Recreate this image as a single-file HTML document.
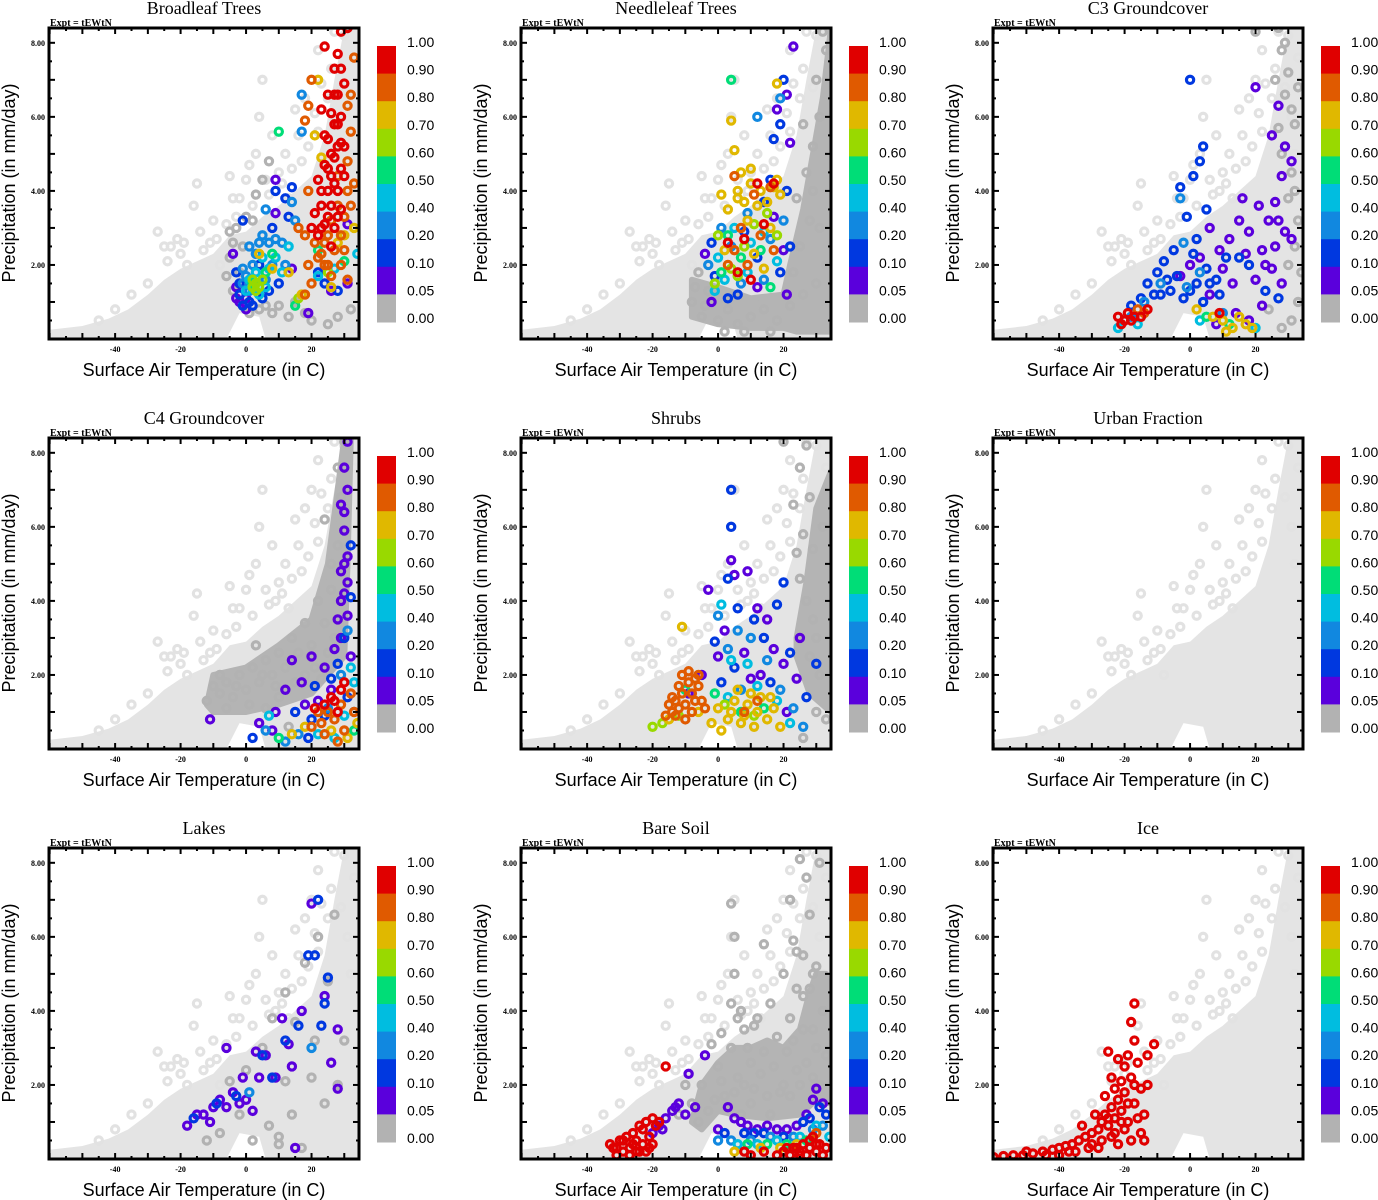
<!DOCTYPE html>
<html><head><meta charset="utf-8"><title>Vegetation fraction scatter panels</title>
<style>
html,body{margin:0;padding:0;background:#fff;}
svg{display:block;}
.ttl{font-family:"Liberation Serif",serif;font-size:18px;fill:#000;text-anchor:middle;}
.expt{font-family:"Liberation Serif",serif;font-size:10px;font-weight:bold;fill:#000;}
.tick{font-family:"Liberation Serif",serif;font-size:8px;font-weight:bold;fill:#000;}
.axl{font-family:"Liberation Sans",sans-serif;font-size:18px;fill:#000;text-anchor:middle;}
.cbl{font-family:"Liberation Sans",sans-serif;font-size:14px;fill:#000;}
</style></head>
<body>
<svg id="fig" width="1378" height="1200" viewBox="0 0 1378 1200" xmlns="http://www.w3.org/2000/svg"></svg>
<script>
// ---------- data ----------
const panelTitles = ["Broadleaf Trees","Needleleaf Trees","C3 Groundcover","C4 Groundcover","Shrubs","Urban Fraction","Lakes","Bare Soil","Ice"];
const xTicks = [-40,-20,0,20];
const yTicks = [2,4,6,8];
const yTickLabels = ["2.00","4.00","6.00","8.00"];
const cbLabels = ["1.00","0.90","0.80","0.70","0.60","0.50","0.40","0.20","0.10","0.05","0.00"];
const cbThresholds = [0.9,0.8,0.7,0.6,0.5,0.4,0.2,0.1,0.05,0];
const cbColors = ["#e00000","#e05a00","#e0b800","#99d900","#00dd77","#00bde0","#1188e0","#0038e0","#5a00dc","#b2b2b2"];
// shared light-grey background cloud: envelope + outliers
const cloudEdgeT = [-60,-50,-42,-36,-30,-25,-20,-15,-10,-5,0,5,10,15,20,24,27,30,34.5,34.5,6,4,-2,-6,-60];
const cloudEdgeP = [0.25,0.35,0.55,0.8,1.2,1.6,1.9,2.1,2.3,2.8,2.9,3.3,3.6,4.0,4.4,5.5,7.0,8.4,8.4,0,0,0.6,0.7,0,0];
const cloudPts = [[-27,2.9],[-25,2.5],[-23,2.5],[-21,2.7],[-20,2.3],[-18,2.0],[-15,4.2],[-16,3.6],[-14,2.9],[-11,2.6],[-10,3.2],[-8,2.0],[-5,4.4],[-4,3.8],[-2,3.8],[0,4.3],[1,4.7],[3,5.0],[4,6.0],[5,7.0],[8,5.5],[10,4.5],[12,5.0],[13,3.8],[15,6.2],[18,6.5],[20,7.0],[22,7.8],[25,6.5],[27,8.3],[30,8.2],[33,7.6],[31,6.0],[22,5.6],[17,4.8],[-30,1.5],[-35,1.2],[-40,0.8],[-45,0.5],[-13,2.4],[-6,3.1],[7,3.9],[19,5.2],[26,7.3],[29,6.8],[32,5.0],[-24,2.1],[-19,2.6],[-9,2.7],[-3,3.3],[2,3.6],[6,4.3],[9,4.0],[11,4.2],[14,4.6],[16,5.5],[21,6.1],[23,6.9]];
// dense mid-grey (fraction 0) regions per panel, as envelope coordinates
const coreT = {
  needleleaf:[22,26,29,32,34.5,34.5,24,20,10,0,-8,-8,0,10,20],
  c4:[-12,-10,0,10,20,25,28,30,32,31,30,20,10,0,-10],
  bareSoil:[-8,-5,0,5,10,15,20,25,28,30,33,34.5,34.5,30,25,15,5,0,-5],
  shrubs:[24,27,30,34.5,34.5,28,24]
};
const coreP = {
  needleleaf:[2.0,3.5,5.0,6.5,8.4,0.2,0.2,0.3,0.3,0.4,0.6,1.6,1.4,1.1,1.2],
  c4:[1.2,2.0,2.2,2.8,3.5,5.0,7.0,8.4,8.4,5.0,2.5,1.5,1.2,1.0,1.0],
  bareSoil:[1.0,2.0,2.6,3.0,3.0,3.2,3.0,3.5,4.5,5.0,5.0,3.0,1.5,1.6,1.2,1.1,1.2,1.3,0.8],
  shrubs:[3.0,4.5,6.5,7.5,1.0,1.5,2.5]
};
// per-panel points [temperature, precipitation, fraction]
const broadleafPts = [[-5,2.9,0],[-3,3.0,0],[-4,2.6,0],[-2,1.8,0],[-6,1.7,0],[0,3.3,0],[2,3.2,0],[3,3.9,0],[5,4.3,0],[7,4.8,0],[-1,2.5,0],[4,0.8,0],[6,0.9,0],[10,0.9,0],[15,1.0,0],[20,0.5,0],[25,0.4,0],[28,0.6,0],[32,0.8,0],[13,0.6,0],[18,0.7,0],[-5,2.2,0],[-4,1.3,0],[1,0.7,0],[8,0.7,0],
[-4,2.3,.05],[-3,1.4,.05],[-2,1.0,.05],[0,0.8,.05],[9,3.4,.05],[9,4.3,.05],[14,1.9,.05],[19,0.7,.05],[26,1.3,.05],[31,1.5,.05],[31,3.1,.05],[-3,1.1,.05],[0,1.1,.05],
[-2,1.2,.1],[-1,0.9,.1],[1,1.0,.1],[-3,1.8,.1],[5,1.1,.1],[8,3.0,.1],[9,4.0,.1],[12,3.8,.1],[13,3.3,.1],[14,4.1,.1],[4,2.0,.1],[10,1.5,.1],[24,1.5,.1],[28,1.3,.1],[22,1.8,.1],[-1,3.2,.1],[-2,1.5,.1],[7,1.3,.1],[2,0.9,.1],
[0,1.7,.2],[1,1.3,.2],[2,2.0,.2],[3,2.3,.2],[5,2.8,.2],[7,2.6,.2],[9,2.7,.2],[11,2.6,.2],[6,3.5,.2],[14,3.7,.2],[15,3.2,.2],[17,6.6,.2],[17,5.6,.2],[-1,1.5,.2],[6,1.6,.2],[12,2.0,.2],[-1,1.9,.2],[1,2.5,.2],[4,2.6,.2],[8,2.0,.2],
[1,1.6,.4],[3,1.8,.4],[5,2.2,.4],[7,1.9,.4],[9,2.2,.4],[11,1.8,.4],[4,1.2,.4],[13,2.5,.4],[22,1.7,.4],[27,1.9,.4],[34,2.3,.4],[2,1.5,.4],[0,1.3,.4],[6,1.4,.4],
[10,5.6,.5],[2,1.5,.5],[6,1.8,.5],[8,2.3,.5],[30,2.1,.5],[22,2.4,.5],[15,0.9,.5],
[2,1.4,.6],[3,1.5,.6],[4,1.4,.6],[5,1.6,.6],[16,1.1,.6],[25,1.8,.6],[3,1.3,.6],[2,1.6,.6],
[4,2.3,.7],[8,1.9,.7],[17,1.2,.7],[21,5.5,.7],[22,7.0,.7],[23,4.9,.7],[26,1.4,.7],[30,2.8,.7],[33,3.0,.7],[28,2.6,.7],[13,1.8,.7],
[18,2.8,.8],[19,2.0,.8],[20,1.5,.8],[22,2.2,.8],[24,2.6,.8],[25,2.0,.8],[27,2.4,.8],[29,2.0,.8],[31,1.6,.8],[26,3.2,.8],[28,3.6,.8],[30,3.3,.8],[32,3.6,.8],[33,4.2,.8],[31,4.8,.8],[32,5.6,.8],[31,6.3,.8],[32,6.6,.8],[33,7.6,.8],[19,4.0,.8],[18,5.9,.8],[19,6.3,.8],[20,7.0,.8],[16,3.0,.8],[24,2.0,.8],[26,1.7,.8],[18,1.2,.8],[21,2.6,.8],[28,4.4,.8],[30,2.4,.8],[23,2.3,.8],[25,2.8,.8],[29,2.8,.8],[31,4.0,.8],
[22,2.8,.9],[21,3.4,.9],[22,4.3,.9],[23,3.6,.9],[24,3.1,.9],[24,4.7,.9],[25,4.0,.9],[25,5.4,.9],[26,3.6,.9],[26,4.4,.9],[26,6.1,.9],[27,3.0,.9],[27,4.9,.9],[27,5.8,.9],[28,4.0,.9],[28,6.6,.9],[28,5.2,.9],[29,3.5,.9],[29,4.6,.9],[29,7.3,.9],[29,6.0,.9],[30,5.2,.9],[30,6.9,.9],[28,7.7,.9],[29,8.3,.9],[31,8.4,.9],[24,7.9,.9],[23,6.2,.9],[20,3.0,.9],[24,5.5,.9],[27,7.3,.9],[26,2.5,.9],[30,4.4,.9],[25,3.3,.9],[23,4.0,.9],[25,4.6,.9],[27,4.2,.9],[28,3.3,.9],[26,5.0,.9],[28,5.8,.9],[27,6.6,.9],[29,5.3,.9],[25,6.6,.9],[23,3.0,.9]];
const needleleafPts = [[-8,1.0,0],[-5,0.6,0],[-3,1.3,0],[0,0.5,0],[3,0.8,0],[6,0.4,0],[10,0.6,0],[14,0.8,0],[18,0.5,0],[22,0.9,0],[26,1.2,0],[30,1.5,0],[33,2.0,0],[25,2.5,0],[28,3.2,0],[24,3.8,0],[27,4.5,0],[29,5.2,0],[31,6.0,0],[30,7.0,0],[33,7.8,0],[32,8.3,0],[26,5.8,0],[29,4.0,0],[31,3.0,0],[23,1.8,0],[-6,1.8,0],[2,0.2,0],[8,0.2,0],[16,0.2,0],[-7,1.4,0],[-4,0.9,0],
[23,7.9,.05],[21,6.6,.05],[18,6.2,.05],[22,5.3,.05],[17,3.3,.05],[20,2.4,.05],[-2,1.0,.05],[-4,2.3,.05],[12,1.4,.05],[21,1.2,.05],
[20,7.0,.1],[19,5.8,.1],[17,5.4,.1],[16,4.3,.1],[21,4.0,.1],[14,3.7,.1],[8,2.9,.1],[-2,2.6,.1],[-1,1.7,.1],[3,1.1,.1],[19,1.8,.1],[22,2.5,.1],[12,2.2,.1],[6,1.2,.1],
[19,6.5,.2],[12,6.0,.2],[1,3.0,.2],[4,2.5,.2],[9,3.4,.2],[16,2.7,.2],[-3,2.0,.2],[7,1.5,.2],[14,1.6,.2],[20,3.2,.2],
[0,2.2,.4],[5,3.0,.4],[10,2.6,.4],[14,2.9,.4],[18,2.1,.4],[2,1.6,.4],[9,1.8,.4],[-1,1.3,.4],
[4,7.0,.5],[3,2.8,.5],[7,2.2,.5],[13,2.4,.5],[1,1.8,.5],[16,1.4,.5],
[0,2.8,.6],[4,1.9,.6],[8,2.5,.6],[11,3.1,.6],[15,3.4,.6],[-1,1.5,.6],[6,1.7,.6],[18,2.8,.6],
[4,5.9,.7],[18,6.9,.7],[5,5.1,.7],[7,4.5,.7],[10,4.2,.7],[13,4.0,.7],[15,3.7,.7],[17,4.1,.7],[19,3.9,.7],[3,3.5,.7],[6,3.8,.7],[9,3.2,.7],[12,3.6,.7],[16,3.0,.7],[2,2.4,.7],[11,2.3,.7],[14,1.9,.7],[6,4.0,.7],[8,3.7,.7],[18,4.3,.7],[1,3.9,.7],[10,4.6,.7],
[5,4.4,.8],[11,3.9,.8],[16,4.1,.8],[3,2.0,.8],[9,2.0,.8],[13,2.8,.8],[17,2.4,.8],[7,3.0,.8],[5,2.4,.8],
[6,1.8,.9],[14,3.1,.9],[10,1.6,.9],[17,4.2,.9],[3,2.6,.9],[8,2.7,.9],[12,4.2,.9]];
const c3Pts = [[20,8.3,0],[27,8.4,0],[28,7.8,0],[30,7.2,0],[26,7.0,0],[31,6.2,0],[29,6.6,0],[32,5.8,0],[28,5.0,0],[31,4.5,0],[30,3.8,0],[33,3.2,0],[32,2.5,0],[34,1.8,0],[33,1.0,0],[31,0.5,0],[28,0.3,0],[24,0.8,0],[30,2.0,0],[27,5.7,0],[32,4.0,0],[33,6.8,0],[29,8.0,0],
[20,6.8,.05],[27,6.3,.05],[25,5.5,.05],[29,5.2,.05],[28,4.4,.05],[26,3.7,.05],[24,3.2,.05],[29,2.9,.05],[31,2.7,.05],[22,2.4,.05],[16,3.8,.05],[15,3.2,.05],[12,2.7,.05],[18,2.9,.05],[9,2.4,.05],[6,3.0,.05],[3,2.2,.05],[0,2.0,.05],[-3,1.7,.05],[20,1.6,.05],[25,1.9,.05],[28,1.5,.05],[13,1.5,.05],[6,1.2,.05],[14,0.7,.05],[22,0.9,.05],[8,0.4,.05],[18,0.5,.05],[31,4.8,.05],[26,2.5,.05],[21,3.6,.05],[10,1.9,.05],[17,2.3,.05],[23,2.0,.05],[27,3.2,.05],
[0,7.0,.1],[4,5.2,.1],[3,4.8,.1],[-3,4.1,.1],[1,4.4,.1],[5,3.5,.1],[-1,3.3,.1],[2,2.7,.1],[-5,2.4,.1],[-8,2.1,.1],[-10,1.8,.1],[-13,1.5,.1],[-6,1.3,.1],[-2,1.1,.1],[2,1.5,.1],[5,1.9,.1],[8,1.6,.1],[11,2.2,.1],[15,2.2,.1],[18,2.0,.1],[23,1.3,.1],[-15,1.1,.1],[-18,0.9,.1],[-11,1.2,.1],[-4,1.7,.1],[4,1.0,.1],[9,1.2,.1],[27,1.1,.1],[1,2.3,.1],[-7,1.6,.1],[-9,1.2,.1],[0,1.3,.1],[6,1.5,.1],
[-3,3.8,.2],[-2,2.6,.2],[-9,1.5,.2],[-1,1.4,.2],[3,1.8,.2],[-14,1.0,.2],[-18,0.6,.2],[-20,0.5,.2],[10,0.7,.2],
[-16,0.4,.4],[-22,0.3,.4],[3,0.5,.4],[20,0.3,.4],
[5,0.6,.5],[12,0.4,.5],
[7,0.6,.7],[10,0.5,.7],[13,0.3,.7],[17,0.4,.7],[19,0.3,.7],[15,0.6,.7],[11,0.2,.7],[2,0.8,.7],
[-16,0.8,.8],[-14,0.7,.8],
[-19,0.7,.9],[-17,0.6,.9],[-22,0.6,.9],[-20,0.5,.9],[-18,0.5,.9],[-13,0.8,.9],[-21,0.4,.9],[-15,0.6,.9],[9,0.7,.9]];
const c4Pts = [[-10,1.7,0],[-8,1.5,0],[-6,1.8,0],[-4,1.4,0],[-2,2.0,0],[0,1.6,0],[2,2.2,0],[4,1.8,0],[6,2.4,0],[8,2.0,0],[10,2.6,0],[12,2.2,0],[14,3.0,0],[16,2.6,0],[18,3.4,0],[20,2.8,0],[22,4.0,0],[24,3.4,0],[26,5.0,0],[28,5.5,0],[24,6.2,0],[29,6.8,0],[28,7.6,0],[30,8.3,0],[26,4.3,0],[27,3.0,0],[-6,1.1,0],[3,2.8,0],[10,1.4,0],[18,2.0,0],[21,2.2,0],[6,1.1,0],[13,0.6,0],[-12,1.3,0],[-8,2.0,0],[-3,1.7,0],[1,1.2,0],[5,2.0,0],[9,1.7,0],[15,1.8,0],[25,2.6,0],[23,1.9,0],
[31,8.3,.05],[30,7.6,.05],[29,6.6,.05],[30,5.9,.05],[31,5.2,.05],[29,4.8,.05],[30,4.2,.05],[28,3.5,.05],[31,3.6,.05],[27,2.7,.05],[24,2.2,.05],[20,2.5,.05],[17,1.8,.05],[14,2.4,.05],[12,1.6,.05],[9,1.0,.05],[4,0.7,.05],[-11,0.8,.05],[22,1.3,.05],[26,1.6,.05],[32,2.5,.05],[18,1.2,.05],[8,0.5,.05],[29,4.0,.05],[30,6.4,.05],[31,7.0,.05],[30,5.0,.05],[31,4.5,.05],[29,3.0,.05],
[32,5.5,.1],[30,3.0,.1],[32,4.1,.1],[26,1.9,.1],[21,1.7,.1],[15,1.0,.1],[19,0.3,.1],[24,0.9,.1],[31,1.4,.1],[28,2.3,.1],[2,0.3,.1],[20,0.8,.1],
[31,3.2,.2],[29,2.0,.2],[25,1.1,.2],[16,0.4,.2],[12,0.2,.2],[33,1.0,.2],[6,0.5,.2],
[32,2.2,.4],[30,0.9,.4],[22,0.4,.4],[27,0.3,.4],[7,0.9,.4],[33,1.8,.4],
[10,0.3,.5],[33,0.5,.5],
[34,0.7,.7],[18,0.6,.7],[26,0.5,.7],[31,0.3,.7],[14,0.4,.7],
[20,0.6,.8],[23,0.7,.8],[25,1.0,.8],[27,0.8,.8],[29,1.2,.8],[32,1.5,.8],[30,0.5,.8],[22,1.0,.8],[24,0.4,.8],[33,1.0,.8],[28,0.2,.8],
[24,1.2,.9],[26,1.4,.9],[28,1.0,.9],[29,1.6,.9],[27,1.3,.9],[21,1.1,.9],[30,1.8,.9]];
const shrubPts = [[20,8.3,0],[25,7.6,0],[27,8.2,0],[23,6.6,0],[28,6.8,0],[26,5.8,0],[29,5.4,0],[25,4.6,0],[27,4.0,0],[29,3.5,0],[30,3.0,0],[28,2.5,0],[31,2.0,0],[30,1.0,0],[33,0.8,0],[26,0.3,0],[32,6.0,0],[24,5.3,0],
[4,5.1,.05],[5,4.7,.05],[-3,4.3,.05],[9,4.8,.05],[12,3.8,.05],[15,3.5,.05],[2,3.2,.05],[8,2.6,.05],[17,2.7,.05],[20,2.3,.05],[25,3.0,.05],[24,1.9,.05],[13,2.0,.05],[-5,2.0,.05],[0,2.5,.05],[10,1.9,.05],[-9,1.5,.05],[21,1.0,.05],
[4,7.0,.1],[4,6.0,.1],[3,4.6,.1],[6,3.8,.1],[11,3.5,.1],[18,3.9,.1],[20,4.5,.1],[14,3.0,.1],[-1,2.9,.1],[5,2.2,.1],[22,2.6,.1],[30,2.3,.1],[16,1.8,.1],[1,1.8,.1],[27,1.4,.1],
[6,3.2,.2],[10,3.0,.2],[0,3.6,.2],[3,2.7,.2],[15,2.4,.2],[19,1.6,.2],[23,1.1,.2],[7,1.6,.2],[26,0.6,.2],
[1,3.9,.4],[4,2.4,.4],[9,2.3,.4],[12,1.7,.4],[18,1.3,.4],[22,0.7,.4],[3,1.4,.4],
[-10,1.6,.5],[-1,1.5,.5],[14,1.1,.5],[7,1.0,.5],
[-12,0.9,.6],[-17,0.7,.6],[-20,0.6,.6],[2,1.2,.6],[11,0.9,.6],
[-11,3.3,.7],[0,1.1,.7],[3,0.8,.7],[5,1.3,.7],[7,0.7,.7],[9,1.2,.7],[11,0.6,.7],[13,1.4,.7],[15,0.8,.7],[17,1.1,.7],[19,0.6,.7],[-2,0.7,.7],[1,0.5,.7],[6,1.6,.7],[-6,1.0,.7],[-15,0.8,.7],[10,1.5,.7],[4,1.0,.7],[8,0.9,.7],[12,1.0,.7],[16,1.4,.7],
[-16,0.9,.8],[-14,1.0,.8],[-13,1.3,.8],[-11,1.5,.8],[-10,1.2,.8],[-9,1.8,.8],[-8,1.5,.8],[-7,1.9,.8],[-6,1.7,.8],[-5,1.3,.8],[-12,1.7,.8],[-8,1.0,.8],[-10,0.8,.8],[-14,1.4,.8],[-6,2.0,.8],[-15,1.2,.8],[-12,1.1,.8],[-4,1.1,.8],[8,1.0,.8],[12,1.3,.8],[-9,2.1,.8],[-11,2.0,.8],[-7,1.3,.8],[-13,0.9,.8]];
const urbanPts = [];
const lakePts = [[-12,0.5,0],[-8,0.7,0],[-5,2.1,0],[0,2.4,0],[5,3.0,0],[8,3.8,0],[12,4.5,0],[15,3.7,0],[18,5.3,0],[22,6.0,0],[25,4.8,0],[20,2.2,0],[24,1.5,0],[28,2.0,0],[30,3.2,0],[10,0.6,0],[14,1.2,0],[17,0.3,0],[7,0.9,0],[2,0.5,0],[-2,1.2,0],[27,6.6,0],[21,3.2,0],[12,2.1,0],[10,0.4,0],
[-18,0.9,.05],[-15,1.2,.05],[-13,1.2,.05],[-10,1.4,.05],[-8,1.6,.05],[-6,1.4,.05],[-4,1.8,.05],[-2,1.5,.05],[0,1.6,.05],[2,1.3,.05],[-6,3.0,.05],[4,2.2,.05],[6,2.8,.05],[9,2.2,.05],[13,3.1,.05],[14,2.5,.05],[17,4.0,.05],[20,6.9,.05],[24,4.4,.05],[28,3.5,.05],[26,2.6,.05],[28,1.9,.05],[11,3.8,.05],[-11,1.0,.05],[15,0.3,.05],[-1,2.2,.05],[3,2.9,.05],
[-16,1.1,.1],[-9,1.5,.1],[-3,1.7,.1],[5,2.8,.1],[8,2.2,.1],[12,3.2,.1],[16,3.6,.1],[19,5.5,.1],[22,7.0,.1],[25,4.9,.1],[24,4.2,.1],[23,3.6,.1],[21,5.5,.1],
[20,3.0,.2],[1,1.8,.2]];
const bareSoilPts = [[-8,1.5,0],[-5,2.0,0],[-3,1.3,0],[0,2.5,0],[2,1.7,0],[4,3.0,0],[6,2.2,0],[8,3.5,0],[10,2.6,0],[12,3.8,0],[14,2.9,0],[16,4.2,0],[18,3.3,0],[20,5.0,0],[22,3.8,0],[24,5.6,0],[26,4.4,0],[28,6.6,0],[30,5.2,0],[27,7.6,0],[25,8.1,0],[31,8.0,0],[29,3.5,0],[32,4.0,0],[24,2.4,0],[19,1.8,0],[11,1.9,0],[-2,3.1,0],[4,4.2,0],[5,5.0,0],[14,5.8,0],[5,6.0,0],[4,6.9,0],[22,1.7,0],[-10,2.0,0],[33,2.8,0],[16,1.2,0],[7,1.2,0],[-6,1.0,0],[-1,1.6,0],[1,2.1,0],[3,1.4,0],[5,1.8,0],[8,2.0,0],[10,1.5,0],[13,2.3,0],[15,1.7,0],[17,2.5,0],[20,2.0,0],[21,2.9,0],[23,3.2,0],[25,2.0,0],[26,3.5,0],[27,2.6,0],[28,4.6,0],[29,2.2,0],[30,3.0,0],[31,2.0,0],[22,7.0,0],[23,5.9,0],[9,3.0,0],[6,3.8,0],[-12,1.2,0],[1,3.4,0],[7,4.0,0],[11,3.6,0],[24,4.6,0],[26,5.5,0],[29,5.0,0],
[-20,0.7,.05],[-18,0.9,.05],[-16,1.1,.05],[-14,1.3,.05],[-12,1.5,.05],[-10,1.2,.05],[-4,2.8,.05],[-9,2.3,.05],[0,0.8,.05],[3,1.4,.05],[5,1.1,.05],[7,1.0,.05],[9,0.9,.05],[12,0.8,.05],[15,0.9,.05],[18,0.8,.05],[21,0.8,.05],[24,0.9,.05],[27,1.2,.05],[29,1.6,.05],[30,1.9,.05],[32,1.5,.05],[-7,1.4,.05],[-17,0.8,.05],[-13,1.4,.05],
[2,0.7,.1],[8,0.7,.1],[14,0.7,.1],[20,0.6,.1],[26,1.0,.1],[31,1.4,.1],[33,1.2,.1],[11,0.7,.1],[28,1.1,.1],
[0,0.5,.2],[4,0.5,.2],[10,0.5,.2],[16,0.6,.2],[23,0.6,.2],[29,0.8,.2],[32,0.9,.2],
[6,0.4,.4],[12,0.4,.4],[18,0.5,.4],[25,0.6,.4],[30,0.9,.4],[34,0.6,.4],
[9,0.4,.5],[15,0.4,.5],[21,0.4,.5],[27,0.5,.5],
[5,0.2,.7],[13,0.3,.7],[19,0.3,.7],[24,0.4,.7],
[30,0.7,.8],
[-33,0.4,.9],[-31,0.3,.9],[-29,0.5,.9],[-27,0.3,.9],[-25,0.5,.9],[-23,0.4,.9],[-21,0.6,.9],[-19,0.9,.9],[-23,0.8,.9],[-26,0.7,.9],[-29,0.2,.9],[-31,0.1,.9],[-27,0.1,.9],[-24,0.2,.9],[-21,0.3,.9],[-18,1.0,.9],[-20,1.1,.9],[-22,1.0,.9],[-16,2.5,.9],[-28,0.6,.9],[-24,0.9,.9],[-32,0.3,.9],[-30,0.5,.9],[-26,0.4,.9],[-25,0.2,.9],[-22,0.2,.9],[-20,0.4,.9],
[8,0.2,.9],[10,0.1,.9],[14,0.2,.9],[18,0.1,.9],[20,0.2,.9],[22,0.1,.9],[23,0.3,.9],[25,0.2,.9],[26,0.4,.9],[27,0.1,.9],[28,0.3,.9],[29,0.6,.9],[30,0.2,.9],[31,0.4,.9],[32,0.1,.9],[33,0.3,.9],[28,0.5,.9],[25,0.1,.9],[21,0.3,.9],[24,0.3,.9],[30,0.4,.9]];
const icePts = [[-60,0.05,.9],[-57,0.08,.9],[-54,0.1,.9],[-51,0.1,.9],[-48,0.15,.9],[-45,0.2,.9],[-42,0.25,.9],[-40,0.3,.9],[-38,0.35,.9],[-36,0.4,.9],[-34,0.5,.9],[-32,0.6,.9],[-30,0.7,.9],[-28,0.8,.9],[-27,1.0,.9],[-26,1.2,.9],[-25,0.9,.9],[-24,1.4,.9],[-23,1.1,.9],[-22,1.6,.9],[-21,1.3,.9],[-20,1.8,.9],[-19,1.0,.9],[-18,2.2,.9],[-17,1.5,.9],[-16,2.6,.9],[-15,1.9,.9],[-14,1.2,.9],[-13,2.0,.9],[-17,4.2,.9],[-18,3.7,.9],[-17,3.2,.9],[-11,3.1,.9],[-13,2.8,.9],[-25,2.9,.9],[-22,2.7,.9],[-20,2.5,.9],[-24,2.2,.9],[-26,1.7,.9],[-29,1.2,.9],[-33,0.9,.9],[-30,0.4,.9],[-35,0.2,.9],[-40,0.1,.9],[-28,0.3,.9],[-24,0.6,.9],[-20,0.8,.9],[-16,1.1,.9],[-15,0.7,.9],[-14,0.5,.9],[-21,2.1,.9],[-19,2.8,.9],[-23,1.9,.9],[-50,0.2,.9],[-44,0.1,.9],[-37,0.2,.9],[-31,0.3,.9],[-27,0.5,.9],[-22,0.4,.9],[-18,0.5,.9],[-21,1.0,.9],[-19,1.5,.9],[-25,1.1,.9],[-23,0.7,.9],[-17,2.0,.9]];
const panelPts = [broadleafPts,needleleafPts,c3Pts,c4Pts,shrubPts,urbanPts,lakePts,bareSoilPts,icePts];
const panelCore = [null,"needleleaf",null,"c4","shrubs",null,null,"bareSoil",null];
const panelNames = ["broadleaf-trees","needleleaf-trees","c3-groundcover","c4-groundcover","shrubs","urban-fraction","lakes","bare-soil","ice"];

// ---------- rendering ----------
const NS = "http://www.w3.org/2000/svg";
const svg = document.getElementById("fig");
const X0=49, X1=359, Y0=28, Y1=339, TMIN=-60.2, TMAX=34.5, PMIN=0, PMAX=8.4;
function mk(tag, attrs, parent){const e=document.createElementNS(NS,tag);for(const k in attrs)e.setAttribute(k,attrs[k]);parent.appendChild(e);return e;}
function sx(t){return X0+(t-TMIN)/(TMAX-TMIN)*(X1-X0);}
function sy(p){return Y1-(p-PMIN)/(PMAX-PMIN)*(Y1-Y0);}
function colorFor(v){for(let i=0;i<cbThresholds.length;i++){if(v>=cbThresholds[i]-1e-9)return cbColors[i];}return cbColors[cbColors.length-1];}
function pathFrom(ts,ps){let d="";ts.forEach((tt,k)=>{d+=(k?"L":"M")+sx(tt).toFixed(1)+" "+sy(ps[k]).toFixed(1);});return d+"Z";}

mk("defs",{},svg).innerHTML='<clipPath id="plotclip"><rect x="'+X0+'" y="'+Y0+'" width="'+(X1-X0)+'" height="'+(Y1-Y0)+'"/></clipPath>';

panelTitles.forEach((title,i)=>{
  const ox=(i%3)*472, oy=Math.floor(i/3)*410;
  const g=mk("g",{transform:"translate("+ox+","+oy+")"},svg);
  
  
  const t=mk("text",{x:204,y:14,class:"ttl"},g); t.textContent=title;
  
  
  const ex=mk("text",{x:50,y:26,class:"expt"},g); ex.textContent="Expt = tEWtN";
  
  
  const plot=mk("g",{"clip-path":"url(#plotclip)"},g);
  
  
  const cl=mk("path",{d:pathFrom(cloudEdgeT,cloudEdgeP),fill:"#e4e4e4",stroke:"none"},plot);
  
  
  cloudPts.forEach(p=>{
    const c=mk("circle",{cx:sx(p[0]),cy:sy(p[1]),r:3.6,fill:"none",stroke:"#e2e2e2","stroke-width":3.2},plot);
    
    
  });
  const ck=panelCore[i];
  if(ck){
    const cp=mk("path",{d:pathFrom(coreT[ck],coreP[ck]),fill:"#b4b4b4",stroke:"#b4b4b4","stroke-width":6,"stroke-linejoin":"round"},plot);
    
    
  }
  panelPts[i].forEach(p=>{
    const c=mk("circle",{cx:sx(p[0]),cy:sy(p[1]),r:3.6,fill:"none",stroke:colorFor(p[2]),"stroke-width":3.2},plot);
    
    
  });
  const fr=mk("rect",{x:X0,y:Y0,width:X1-X0,height:Y1-Y0,fill:"none",stroke:"#000","stroke-width":3},g);
  
  
  for(let tv=-60;tv<=30;tv+=5){
    const x=sx(tv), L=(tv%10===0)?6:3;
    mk("line",{x1:x,y1:Y1,x2:x,y2:Y1-L,stroke:"#000","stroke-width":2},g);
    mk("line",{x1:x,y1:Y0,x2:x,y2:Y0+L,stroke:"#000","stroke-width":2},g);
  }
  for(let pv=0.5;pv<=8;pv+=0.5){
    const y=sy(pv), L=(pv%1===0)?6:3;
    mk("line",{x1:X0,y1:y,x2:X0+L,y2:y,stroke:"#000","stroke-width":2},g);
    mk("line",{x1:X1,y1:y,x2:X1-L,y2:y,stroke:"#000","stroke-width":2},g);
  }
  xTicks.forEach(tv=>{
    const tl=mk("text",{x:sx(tv),y:352,class:"tick","text-anchor":"middle"},g); tl.textContent=String(tv);
    
    
  });
  yTicks.forEach((pv,k)=>{
    const tl=mk("text",{x:45,y:sy(pv)+3,class:"tick","text-anchor":"end"},g); tl.textContent=yTickLabels[k];
    
    
  });
  const xl=mk("text",{x:204,y:376,class:"axl"},g); xl.textContent="Surface Air Temperature (in C)";
  
  
  const yl=mk("text",{x:0,y:0,class:"axl",transform:"translate(15,183) rotate(-90)"},g); yl.textContent="Precipitation (in mm/day)";
  
  
  const cb=mk("g",{},g);
  
  
  const cbTop=46, cbH=27.6;
  cbColors.forEach((col,k)=>{
    const r=mk("rect",{x:377,y:cbTop+k*cbH,width:19,height:cbH+0.5,fill:col},cb);
    
    
  });
  cbLabels.forEach((lab,k)=>{
    const tl=mk("text",{x:407,y:cbTop+k*cbH+1,class:"cbl"},cb); tl.textContent=lab;
    
    
  });
});
</script>
</body></html>
